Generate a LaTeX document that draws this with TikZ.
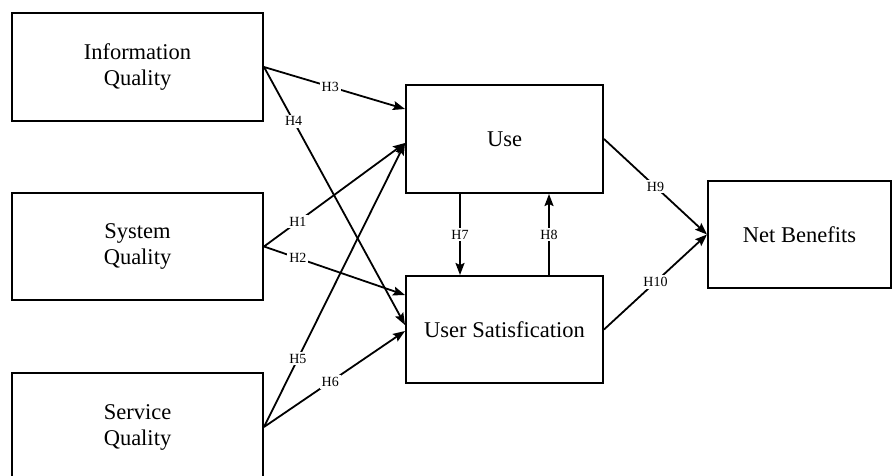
\documentclass[tikz,border=0pt]{standalone}
\usepackage{fontspec}
\setmainfont{Liberation Serif}
\usetikzlibrary{arrows.meta}
\begin{document}
\begin{tikzpicture}[x=1pt,y=-1pt,
  box/.style={draw, line width=2pt, inner sep=0pt, align=center, font=\fontsize{22.5}{26}\selectfont},
  conn/.style={line width=1.8pt, -{Stealth[length=12pt,width=9pt,inset=2pt]}},
  hlab/.style={fill=white, inner sep=2pt, font=\fontsize{14}{16}\selectfont}]
\useasboundingbox (0,0) rectangle (896,476);
\clip (0,0) rectangle (896,476);
\node[box, minimum width=251pt, minimum height=108pt] (iq) at (137.5,67) {Information\\Quality};
\node[box, minimum width=251pt, minimum height=107pt] (sq) at (137.5,246.5) {System\\Quality};
\node[box, minimum width=251pt, minimum height=108pt] (svq) at (137.5,427) {Service\\Quality};
\node[box, minimum width=197pt, minimum height=108pt] (use) at (504.5,139) {Use};
\node[box, minimum width=197pt, minimum height=107pt] (us) at (504.5,329.5) {User Satisfication};
\node[box, minimum width=183pt, minimum height=107pt] (nb) at (799.5,234.5) {Net Benefits};

\draw[conn] (iq.east) -- node[hlab, pos=0.47] {H3} ([yshift=30pt]use.west);
\draw[conn] (iq.east) -- node[hlab, pos=0.21] {H4} ([yshift=4.5pt]us.west);
\draw[conn] (sq.east) -- node[hlab, pos=0.24] {H1} ([yshift=-4pt]use.west);
\draw[conn] (sq.east) -- node[hlab, pos=0.24] {H2} ([yshift=34.5pt]us.west);
\draw[conn] (svq.east) -- node[hlab, pos=0.24] {H5} ([yshift=-4pt]use.west);
\draw[conn] (svq.east) -- node[hlab, pos=0.47] {H6} ([yshift=-1.5pt]us.west);
\draw[conn] ([xshift=-44.5pt]use.south) -- node[hlab] {H7} ([xshift=-44.5pt]us.north);
\draw[conn] ([xshift=44.5pt]us.north) -- node[hlab] {H8} ([xshift=44.5pt]use.south);
\draw[conn] (use.east) -- node[hlab, pos=0.5] {H9} (nb.west);
\draw[conn] (us.east) -- node[hlab, pos=0.5] {H10} (nb.west);
\end{tikzpicture}
\end{document}
